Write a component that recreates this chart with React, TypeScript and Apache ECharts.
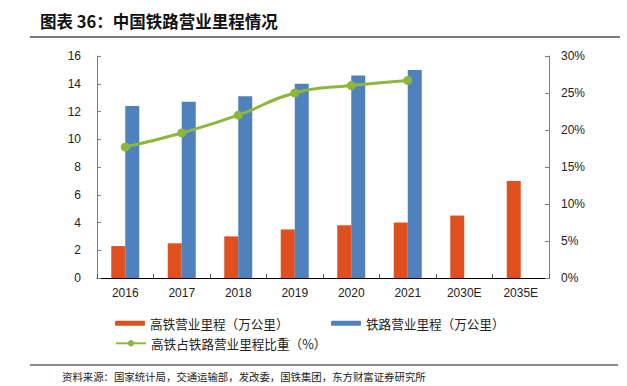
import React, { useEffect, useRef } from "react";
import * as echarts from "echarts";

const categories = ["2016", "2017", "2018", "2019", "2020", "2021", "2030E", "2035E"];
const hsrMileage = [2.3, 2.5, 3.0, 3.5, 3.8, 4.0, 4.5, 7.0];
const railMileage = [12.4, 12.7, 13.1, 14.0, 14.6, 15.0, null, null];
const hsrShare = [17.7, 19.6, 22.0, 25.0, 26.0, 26.7, null, null];
const leftTicks = { min: 0, max: 16, interval: 2 };
const rightTicks = { min: 0, max: 30, interval: 5 };

const titleText = "图表 36：中国铁路营业里程情况";
const sourceText = "资料来源：国家统计局，交通运输部，发改委，国铁集团，东方财富证券研究所";
const seriesNames = ["高铁营业里程（万公里）", "铁路营业里程（万公里）", "高铁占铁路营业里程比重（%）"];

const RED = "#E0501F";
const BLUE = "#4F81BD";
const GREEN = "#8DB73C";
const FONT = "'Liberation Sans', Arial, sans-serif";
const CJK = "'Noto Sans CJK SC', sans-serif";

export default function App() {
  const ref = useRef<HTMLDivElement>(null);
  useEffect(() => {
    if (!ref.current) return;
    const chart = echarts.init(ref.current, null, { renderer: "svg" });
    const legendText = { fontFamily: CJK, fontSize: 12.6, color: "#222" };
    chart.setOption({
      animation: false,
      backgroundColor: "#fff",
      grid: { left: 97, right: 78, top: 56, bottom: 108 },
      graphic: [
        {
          type: "text",
          left: 40,
          top: 13,
          style: { text: titleText, font: `bold 16.5px ${CJK}`, fill: "#111" },
        },
        {
          type: "line",
          shape: { x1: 30, y1: 37, x2: 620, y2: 37 },
          style: { stroke: "#7a7a7a", lineWidth: 2 },
        },
        {
          type: "line",
          shape: { x1: 30, y1: 365, x2: 618, y2: 365 },
          style: { stroke: "#8a8a8a", lineWidth: 2 },
        },
        {
          type: "text",
          left: 62,
          top: 371,
          style: { text: sourceText, font: `10.4px ${CJK}`, fill: "#222" },
        },
      ],
      legend: [
        {
          data: [seriesNames[0]],
          left: 110,
          top: 312,
          itemWidth: 30,
          itemHeight: 5,
          textStyle: legendText,
          selectedMode: false,
        },
        {
          data: [seriesNames[1]],
          left: 326,
          top: 312,
          itemWidth: 30,
          itemHeight: 5,
          textStyle: legendText,
          selectedMode: false,
        },
        {
          data: [seriesNames[2]],
          left: 110,
          top: 332,
          itemWidth: 30,
          itemHeight: 8,
          textStyle: legendText,
          selectedMode: false,
        },
      ],
      xAxis: {
        type: "category",
        data: categories,
        axisLine: { lineStyle: { color: "#000", width: 1 } },
        axisTick: { show: true, inside: true, length: 4, lineStyle: { color: "#555" } },
        axisLabel: { fontFamily: FONT, fontSize: 12, color: "#222", margin: 9 },
      },
      yAxis: [
        {
          type: "value",
          ...leftTicks,
          splitLine: { show: false },
          axisLine: { show: true, lineStyle: { color: "#808080" } },
          axisTick: { show: true, inside: true, length: 4, lineStyle: { color: "#808080" } },
          axisLabel: { fontFamily: FONT, fontSize: 12, color: "#222", margin: 16 },
        },
        {
          type: "value",
          ...rightTicks,
          splitLine: { show: false },
          axisLine: { show: true, lineStyle: { color: "#808080" } },
          axisTick: { show: true, inside: true, length: 4, lineStyle: { color: "#808080" } },
          axisLabel: { fontFamily: FONT, fontSize: 12, color: "#222", margin: 12, formatter: "{value}%" },
        },
      ],
      series: [
        {
          name: seriesNames[0],
          type: "bar",
          data: hsrMileage,
          barWidth: 14,
          barGap: "0%",
          itemStyle: { color: RED },
        },
        {
          name: seriesNames[1],
          type: "bar",
          data: railMileage,
          barWidth: 14,
          barGap: "0%",
          itemStyle: { color: BLUE },
        },
        {
          name: seriesNames[2],
          type: "line",
          yAxisIndex: 1,
          data: hsrShare,
          smooth: true,
          symbol: "circle",
          symbolSize: 9,
          lineStyle: { color: GREEN, width: 3 },
          itemStyle: { color: GREEN },
        },
      ],
    });
    return () => chart.dispose();
  }, []);
  return (
    <div
      ref={ref}
      style={{ position: "fixed", left: 0, top: 0, width: 627, height: 386, background: "#fff" }}
    />
  );
}
